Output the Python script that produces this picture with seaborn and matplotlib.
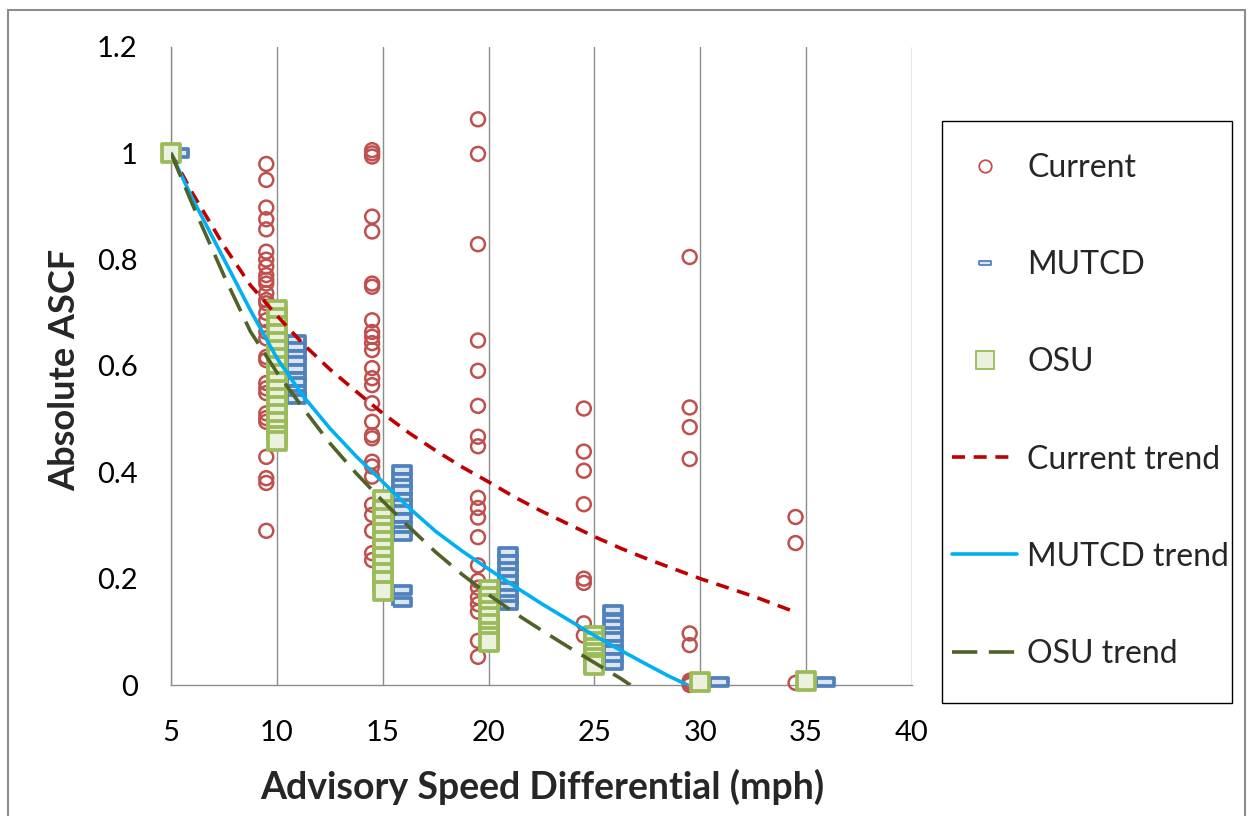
import matplotlib
matplotlib.use("Agg")
import matplotlib.pyplot as plt
import matplotlib.patches as mpatches
from matplotlib.lines import Line2D
import pandas as pd
import seaborn as sns

# ---- data ----
current_x = [9.5, 14.5, 19.5, 24.5, 29.5, 34.5]
current_y_10 = [0.98, 0.95, 0.898, 0.876, 0.857, 0.815, 0.80, 0.787, 0.771, 0.762, 0.755, 0.737,
                0.724, 0.718, 0.70, 0.686, 0.664, 0.652, 0.617, 0.611, 0.568, 0.558, 0.549,
                0.511, 0.502, 0.495, 0.429, 0.389, 0.38, 0.29]
current_y_15 = [1.006, 1.0, 0.994, 0.881, 0.853, 0.755, 0.749, 0.686, 0.664, 0.655, 0.643, 0.63,
                0.596, 0.577, 0.564, 0.53, 0.495, 0.47, 0.464, 0.42, 0.411, 0.392, 0.339, 0.32,
                0.29, 0.248, 0.235]
current_y_20 = [1.064, 0.999, 0.829, 0.648, 0.591, 0.525, 0.467, 0.449, 0.352, 0.333, 0.315,
                0.278, 0.225, 0.196, 0.183, 0.165, 0.152, 0.138, 0.083, 0.053]
current_y_25 = [0.52, 0.439, 0.403, 0.34, 0.20, 0.192, 0.116, 0.093]
current_y_30 = [0.805, 0.522, 0.485, 0.425, 0.097, 0.075, 0.008, 0.004, 0.0]
current_y_35 = [0.316, 0.267, 0.004]

mutcd_x = [5.4, 10.9, 15.9, 20.9, 25.9, 30.9, 35.9]
mutcd_y_5 = [1.0]
mutcd_y_10 = [0.648, 0.635, 0.62, 0.61, 0.595, 0.58, 0.57, 0.555, 0.545, 0.537]
mutcd_y_15 = [0.404, 0.39, 0.378, 0.366, 0.352, 0.34, 0.33, 0.315, 0.30, 0.29, 0.28, 0.178, 0.156]
mutcd_y_20 = [0.251, 0.235, 0.222, 0.21, 0.198, 0.185, 0.172, 0.16, 0.15]
mutcd_y_25 = [0.141, 0.125, 0.112, 0.10, 0.09, 0.075, 0.065, 0.05, 0.037]
mutcd_y_30 = [0.005]
mutcd_y_35 = [0.005]

osu_x = [5, 10, 15, 20, 25, 30, 35]
osu_y_5 = [1.0]
osu_y_10 = [0.706, 0.69, 0.675, 0.66, 0.645, 0.63, 0.615, 0.60, 0.585, 0.57, 0.555, 0.54,
            0.525, 0.51, 0.495, 0.48, 0.468, 0.458]
osu_y_15 = [0.348, 0.33, 0.315, 0.30, 0.285, 0.27, 0.255, 0.24, 0.225, 0.21, 0.195, 0.176]
osu_y_20 = [0.178, 0.165, 0.152, 0.14, 0.128, 0.115, 0.10, 0.09, 0.081]
osu_y_25 = [0.092, 0.08, 0.07, 0.06, 0.05, 0.042, 0.038]
osu_y_30 = [0.005]
osu_y_35 = [0.008]

current_trend_x = [5, 6, 7.5, 8.75, 10, 11.25, 12.5, 13.75, 15, 16.25, 17.5, 18.75, 20, 21.25,
                   22.5, 23.75, 25, 26.25, 27.5, 30, 32.5, 34.5]
current_trend_y = [1.0, 0.926, 0.826, 0.752, 0.695, 0.641, 0.594, 0.552, 0.511, 0.474, 0.441,
                   0.41, 0.382, 0.353, 0.327, 0.303, 0.279, 0.257, 0.237, 0.2, 0.167, 0.137]
mutcd_trend_x = [5, 6, 7.5, 8.75, 10, 11.25, 12.5, 13.75, 15, 16.25, 17.5, 18.75, 20, 21.25,
                 22.5, 23.75, 25, 26.25, 27.5, 28.5, 29.4]
mutcd_trend_y = [1.0, 0.916, 0.801, 0.705, 0.615, 0.543, 0.483, 0.43, 0.382, 0.333, 0.289,
                 0.252, 0.218, 0.185, 0.153, 0.123, 0.093, 0.065, 0.038, 0.017, 0.0]
osu_trend_x = [5, 6, 7.5, 8.75, 10, 11.25, 12.5, 13.75, 15, 16.25, 17.5, 18.75, 20, 21.25,
               22.5, 23.75, 25, 26.25, 26.7]
osu_trend_y = [1.0, 0.905, 0.77, 0.665, 0.588, 0.52, 0.455, 0.398, 0.346, 0.297, 0.25, 0.208,
               0.17, 0.135, 0.103, 0.072, 0.042, 0.012, 0.0]

x_ticks = [5, 10, 15, 20, 25, 30, 35, 40]
y_ticks = [0, 0.2, 0.4, 0.6, 0.8, 1.0, 1.2]
y_tick_labels = ["0", "0.2", "0.4", "0.6", "0.8", "1", "1.2"]
legend_labels = ["Current", "MUTCD", "OSU", "Current trend", "MUTCD trend", "OSU trend"]


def long_table(xs, groups):
    rows = []
    for x, ys in zip(xs, groups):
        rows += [(x, y) for y in ys]
    return pd.DataFrame(rows, columns=["speed", "ascf"])


current_df = long_table(current_x, [current_y_10, current_y_15, current_y_20,
                                    current_y_25, current_y_30, current_y_35])
mutcd_df = long_table(mutcd_x, [mutcd_y_5, mutcd_y_10, mutcd_y_15, mutcd_y_20,
                                mutcd_y_25, mutcd_y_30, mutcd_y_35])
osu_df = long_table(osu_x, [osu_y_5, osu_y_10, osu_y_15, osu_y_20,
                            osu_y_25, osu_y_30, osu_y_35])

# ---- styling ----
RED = "#C0504D"
BLUE = "#4F81BD"
BLUE_FILL = "#DCE6F2"
GREEN = "#9BBB59"
GREEN_FILL = "#EBF1DE"
RED_TREND = "#C00000"
CYAN_TREND = "#00B0F0"
OLIVE_TREND = "#4F6228"
GRID = "#8C8C8C"

sns.set_style("white")
plt.rcParams["font.family"] = ["Lato", "DejaVu Sans"]

W, H = 1250, 816
fig = plt.figure(figsize=(12.5, 8.16), dpi=100)
ax = fig.add_axes([171 / W, 131 / H, (912 - 171) / W, (685 - 47) / H])

rect_marker = [(-1.2, -0.5), (1.2, -0.5), (1.2, 0.5), (-1.2, 0.5), (-1.2, -0.5)]

sns.scatterplot(data=current_df, x="speed", y="ascf", ax=ax, marker="o", s=100,
                color=RED, facecolor="none", edgecolor=RED, linewidth=1.8,
                clip_on=False, zorder=3, legend=False)
sns.scatterplot(data=mutcd_df, x="speed", y="ascf", ax=ax, marker=rect_marker, s=185,
                color=BLUE, facecolor=BLUE_FILL, edgecolor=BLUE, linewidth=2.7,
                clip_on=False, zorder=3.1, legend=False)
sns.scatterplot(data=osu_df, x="speed", y="ascf", ax=ax, marker="s", s=185,
                color=GREEN, facecolor=GREEN_FILL, edgecolor=GREEN, linewidth=2.7,
                clip_on=False, zorder=3.2, legend=False)

red_dash = (0, (3.6, 2.4))
olive_dash = (0, (7.0, 3.2))
LW = 2.6
sns.lineplot(x=current_trend_x, y=current_trend_y, ax=ax, color=RED_TREND, linewidth=LW,
             linestyle=red_dash, errorbar=None, sort=False, zorder=4)
sns.lineplot(x=mutcd_trend_x, y=mutcd_trend_y, ax=ax, color=CYAN_TREND, linewidth=LW,
             errorbar=None, sort=False, zorder=4.1)
sns.lineplot(x=osu_trend_x, y=osu_trend_y, ax=ax, color=OLIVE_TREND, linewidth=LW,
             linestyle=olive_dash, errorbar=None, sort=False, zorder=4.2)

ax.set_xlim(5, 40)
ax.set_ylim(0, 1.2)
ax.set_xticks(x_ticks)
ax.set_yticks(y_ticks)
ax.set_yticklabels(y_tick_labels)
ax.set_xlabel("")
ax.set_ylabel("")
ax.tick_params(axis="both", direction="out", length=8, width=1, color=GRID,
               labelsize=21, labelcolor="black")
ax.tick_params(axis="y", pad=16)
ax.tick_params(axis="x", pad=17)
ax.xaxis.grid(True, color=GRID, linewidth=1)
ax.yaxis.grid(False)
ax.set_axisbelow(True)
for side in ["top", "right"]:
    ax.spines[side].set_visible(False)
for side in ["left", "bottom"]:
    ax.spines[side].set_color(GRID)
    ax.spines[side].set_linewidth(1)

fig.text(65 / W, 1 - 370 / H, "Absolute ASCF", rotation=90, ha="center", va="center",
         fontsize=26, fontweight="bold")
fig.text(542 / W, 1 - 787 / H, "Advisory Speed Differential (mph)", ha="center", va="center",
         fontsize=27, fontweight="bold")

# legend
handles = [
    Line2D([], [], linestyle="none", marker="o", markersize=9, markerfacecolor="none",
           markeredgecolor=RED, markeredgewidth=1.3),
    Line2D([], [], linestyle="none", marker=rect_marker, markersize=8,
           markerfacecolor=BLUE_FILL, markeredgecolor=BLUE, markeredgewidth=1.3),
    Line2D([], [], linestyle="none", marker="s", markersize=13,
           markerfacecolor=GREEN_FILL, markeredgecolor=GREEN, markeredgewidth=1.3),
    Line2D([], [], color=RED_TREND, linewidth=LW, linestyle=red_dash),
    Line2D([], [], color=CYAN_TREND, linewidth=LW),
    Line2D([], [], color=OLIVE_TREND, linewidth=LW, linestyle=olive_dash),
]
fig.legend(handles, legend_labels, loc="center left",
           bbox_to_anchor=(952 / W, 1 - 411 / H), frameon=False, fontsize=23,
           labelspacing=2.1, handlelength=2.05, handletextpad=0.3, borderpad=0,
           borderaxespad=0)
fig.add_artist(mpatches.Rectangle((942 / W, 1 - 703 / H), 290 / W, 582 / H,
                                  transform=fig.transFigure, fill=False,
                                  edgecolor="black", linewidth=1))
# outer chart border
fig.add_artist(mpatches.Rectangle((8 / W, -0.02), (1245 - 8) / W, 1.02 - 10 / H,
                                  transform=fig.transFigure, fill=False,
                                  edgecolor="#8C8C8C", linewidth=1.5))

fig.savefig("out.png", dpi=100)
